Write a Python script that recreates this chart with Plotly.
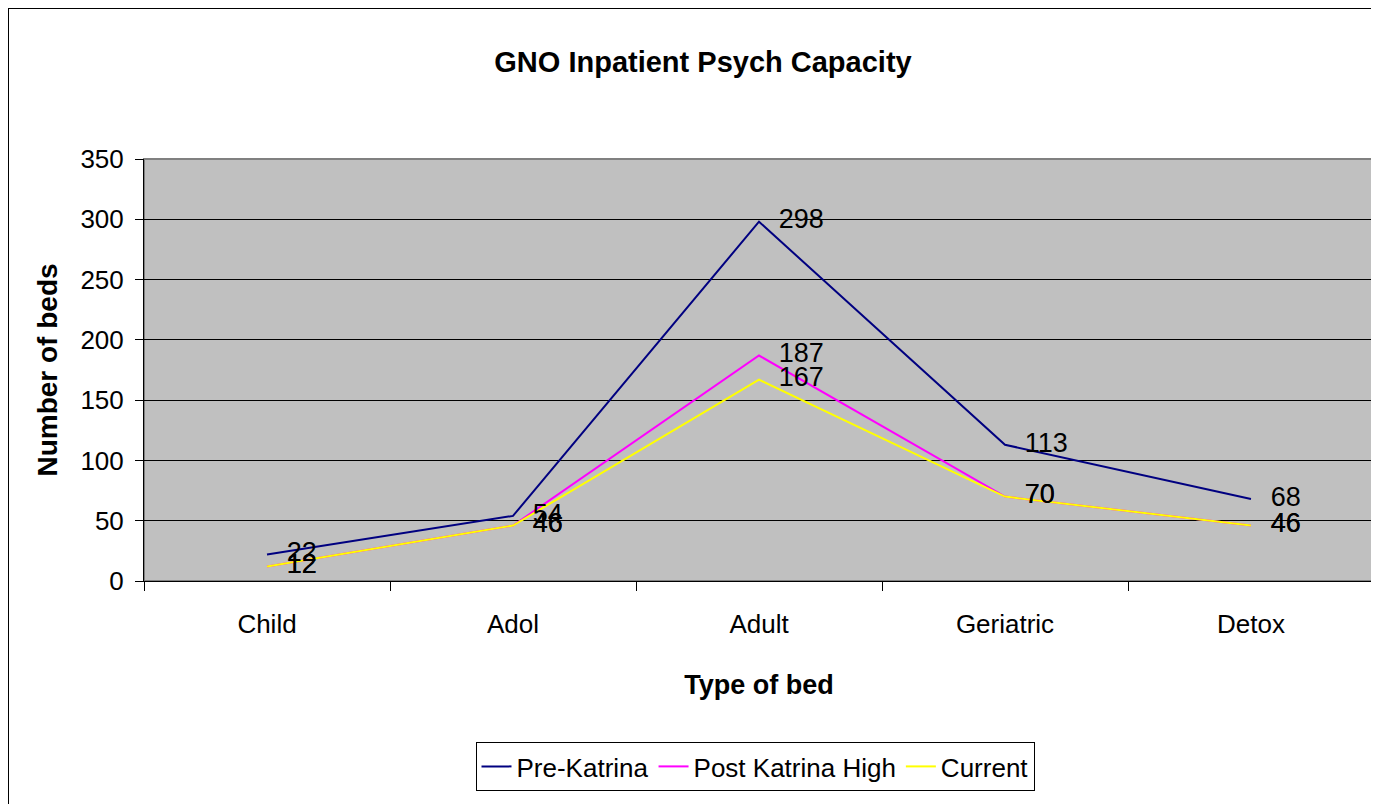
import plotly.graph_objects as go

categories = ["Child", "Adol", "Adult", "Geriatric", "Detox"]
pre_katrina = [22, 54, 298, 113, 68]
post_katrina_high = [12, 46, 187, 70, 46]
current = [12, 46, 167, 70, 46]
y_ticks = [0, 50, 100, 150, 200, 250, 300, 350]

FONT = "Liberation Sans, Arial, Helvetica, sans-serif"

series = [
    ("Pre-Katrina", pre_katrina, "#000080"),
    ("Post Katrina High", post_katrina_high, "#FF00FF"),
    ("Current", current, "#FFFF00"),
]

fig = go.Figure()
for name, vals, color in series:
    fig.add_trace(go.Scatter(
        x=categories, y=vals, name=name, mode="lines",
        line=dict(color=color, width=2), cliponaxis=False,
    ))
for name, vals, color in series:
    fig.add_trace(go.Scatter(
        x=categories, y=vals, name=name, mode="markers+text", showlegend=False,
        marker=dict(size=30, color="rgba(0,0,0,0)"),
        text=[str(v) for v in vals], textposition="middle right",
        textfont=dict(family=FONT, size=27, color="black"),
        cliponaxis=False, hoverinfo="skip",
    ))

# page has an 8px body margin; figure coordinates are page coordinates minus 8
W, H = 1371, 796
L, R, T, B = 136, 5, 151, 223
pw, ph = W - L - R, H - T - B

fig.update_layout(
    width=W, height=H,
    margin=dict(l=L, r=R, t=T, b=B),
    paper_bgcolor="white", plot_bgcolor="#C0C0C0",
    font=dict(family=FONT, size=26, color="black"),
    title=dict(text="<b>GNO Inpatient Psych Capacity</b>", x=695 / W, xanchor="center",
               y=1 - 54 / H, yanchor="middle", font=dict(family=FONT, size=29)),
    showlegend=True,
    legend=dict(orientation="h", x=(747 - L) / pw, xanchor="center", y=(573 - 734) / ph, yanchor="top",
                bgcolor="white", bordercolor="black", borderwidth=1,
                font=dict(family=FONT, size=26), tracegroupgap=0),
    xaxis=dict(
        type="category", showgrid=False, showline=True, linecolor="black", linewidth=1,
        ticks="outside", tickson="boundaries", ticklen=9, tickcolor="black",
        ticklabelstandoff=20,
        tickfont=dict(family=FONT, size=26), range=[-0.5, 4.5],
        title=dict(text="<b>Type of bed</b>", font=dict(family=FONT, size=27), standoff=36),
    ),
    yaxis=dict(
        range=[0, 350], tickvals=y_ticks, showgrid=True, gridcolor="black", gridwidth=1,
        showline=True, linecolor="black", linewidth=1, zeroline=False,
        ticks="outside", ticklen=8, tickcolor="black", ticklabelstandoff=6,
        tickfont=dict(family=FONT, size=26),
        title=dict(text="<b>Number of beds</b>", font=dict(family=FONT, size=28), standoff=14),
    ),
    shapes=[
        dict(type="rect", xref="paper", yref="paper", x0=0, x1=1, y0=0, y1=1,
             line=dict(color="#808080", width=2), layer="below"),
        dict(type="rect", xref="paper", yref="paper",
             x0=(0 - L) / pw, x1=1.2, y0=-1.0, y1=(573 - 0) / ph,
             line=dict(color="black", width=2), layer="below"),
    ],
)

fig.write_html("out.html")
